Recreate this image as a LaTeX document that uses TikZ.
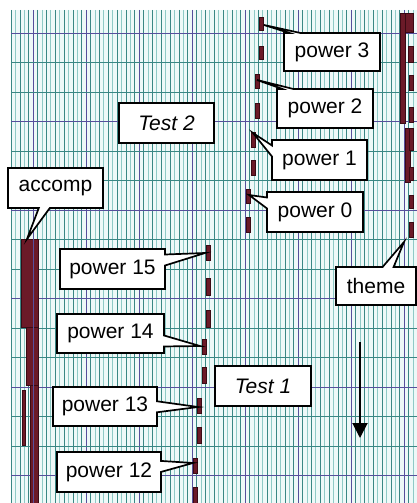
\documentclass[tikz,border=0pt]{standalone}
\usepackage{fontspec}
\setmainfont{Liberation Sans}
\usetikzlibrary{shapes.callouts,arrows.meta}
\definecolor{gridlight}{HTML}{8FCAC6}
\definecolor{griddark}{HTML}{3A8784}
\definecolor{gridmajor}{HTML}{57509C}
\definecolor{gridbg}{HTML}{EEF9F8}
\definecolor{notefill}{HTML}{6B1A28}
\definecolor{noteedge}{HTML}{3A0A14}
\begin{document}
\begin{tikzpicture}[x=1pt,y=-1pt,
 callbox/.style={rectangle callout, draw=black, line width=1.7pt, fill=white, inner sep=0pt,
   font=\fontsize{21}{25}\selectfont, callout pointer width=11pt},
 textbox/.style={rectangle, draw=black, line width=1.7pt, fill=white, inner sep=0pt,
   font=\fontsize{21}{25}\selectfont\itshape},
 note/.style={fill=notefill, draw=noteedge, line width=0.4pt}]
\useasboundingbox (0,0) rectangle (417,503);
\fill[gridbg] (11,10) rectangle (417,503);
% vertical grid
\foreach \i in {0,...,91}{
  \pgfmathsetmacro\xx{11.2+4.4167*\i}
  \pgfmathtruncatemacro\m{mod(\i,12)}
  \ifnum\m=5 \def\gc{gridmajor}\else\ifodd\i\def\gc{gridlight}\else\def\gc{griddark}\fi\fi
  \draw[\gc, line width=1pt] (\xx,10) -- (\xx,503);
}
% horizontal grid
\foreach \j in {0,...,15}{
  \pgfmathsetmacro\yy{33.3+29.5*\j}
  \pgfmathtruncatemacro\m{mod(\j,3)}
  \ifnum\m=0 \def\gc{gridmajor}\else\def\gc{griddark}\fi
  \draw[\gc, line width=1pt] (11,\yy) -- (417,\yy);
}
% dashed note columns
\foreach \x/\a/\b in {259/17/30, 259/46/59, 255/74/88, 255/103/118, 251/132/147, 251/160/175,
  246/189/203, 246/217/232, 206/245/260, 206/278/295, 206/310/327, 202/339/354, 202/367/383,
  197/398/413, 197/427/443, 193/458/473, 193/487/503}
  \draw[note] (\x,\a) rectangle (\x+4.5,\b);
% accomp bars
\draw[note] (21,239) rectangle (38,327);
\draw[note] (26,327) rectangle (38,385);
\draw[note] (30,385) rectangle (38,503);
\draw[note] (22,390) rectangle (25,445);
% theme bars
\draw[note] (400,13) rectangle (405,123);
\draw[note] (405,13) rectangle (413,32);
\draw[note] (408,46) rectangle (413,62);
\draw[note] (409,75) rectangle (413,90);
\draw[note] (409,107) rectangle (413,122);
\draw[note] (405,128) rectangle (410,182);
\draw[note] (409,128) rectangle (413,150);
\draw[note] (409,167) rectangle (413,180);
\draw[note] (409,195) rectangle (413,208);
\draw[note] (409,222) rectangle (413,237);
% re-draw major verticals over bars
\foreach \xx in {33.3,404.5}
  \draw[gridmajor, line width=1pt] (\xx,239) -- (\xx,503);
% pointer tips
\coordinate (t3) at (264,25);
\coordinate (t2) at (257,80);
\coordinate (t1) at (253,133);
\coordinate (t0) at (249,195);
\coordinate (tth) at (404,242);
\coordinate (tac) at (27,239);
\coordinate (t15) at (205,253);
\coordinate (t14) at (200,346);
\coordinate (t13) at (198,407);
\coordinate (t12) at (193,463);
% callouts
\node[callbox, callout absolute pointer={(t3)}, minimum width=96pt, minimum height=38pt] (p3) at (332,52) {power 3};
\node[callbox, callout absolute pointer={(t2)}, minimum width=96pt, minimum height=39pt] (p2) at (325,108.5) {power 2};
\node[callbox, callout absolute pointer={(t1)}, minimum width=95pt, minimum height=40pt] (p1) at (319.5,160) {power 1};
\node[callbox, callout absolute pointer={(t0)}, minimum width=96pt, minimum height=40pt] (p0) at (315,212) {power 0};
\node[callbox, callout absolute pointer={(tth)}, minimum width=80pt, minimum height=38pt] (theme) at (376,286) {theme};
\node[callbox, callout absolute pointer={(tac)}, minimum width=95pt, minimum height=40pt] (accomp) at (55.5,188) {accomp};
\node[callbox, callout absolute pointer={(t15)}, minimum width=105pt, minimum height=40pt] (p15) at (112.5,269) {power 15};
\node[callbox, callout absolute pointer={(t14)}, minimum width=107pt, minimum height=39pt] (p14) at (110.5,333.5) {power 14};
\node[callbox, callout absolute pointer={(t13)}, minimum width=104pt, minimum height=39pt] (p13) at (105,406.5) {power 13};
\node[callbox, callout absolute pointer={(t12)}, minimum width=104pt, minimum height=40pt] (p12) at (109,472) {power 12};
\node[textbox, minimum width=95pt, minimum height=40pt] (test2) at (166.5,123) {Test 2};
\node[textbox, minimum width=96pt, minimum height=40pt] (test1) at (263,386) {Test 1};
% arrow
\coordinate (a1) at (360,342);
\coordinate (a2) at (360,438);
\draw[line width=2pt, -{Triangle[length=15pt,width=15pt]}] (a1) -- (a2);
\end{tikzpicture}
\end{document}
